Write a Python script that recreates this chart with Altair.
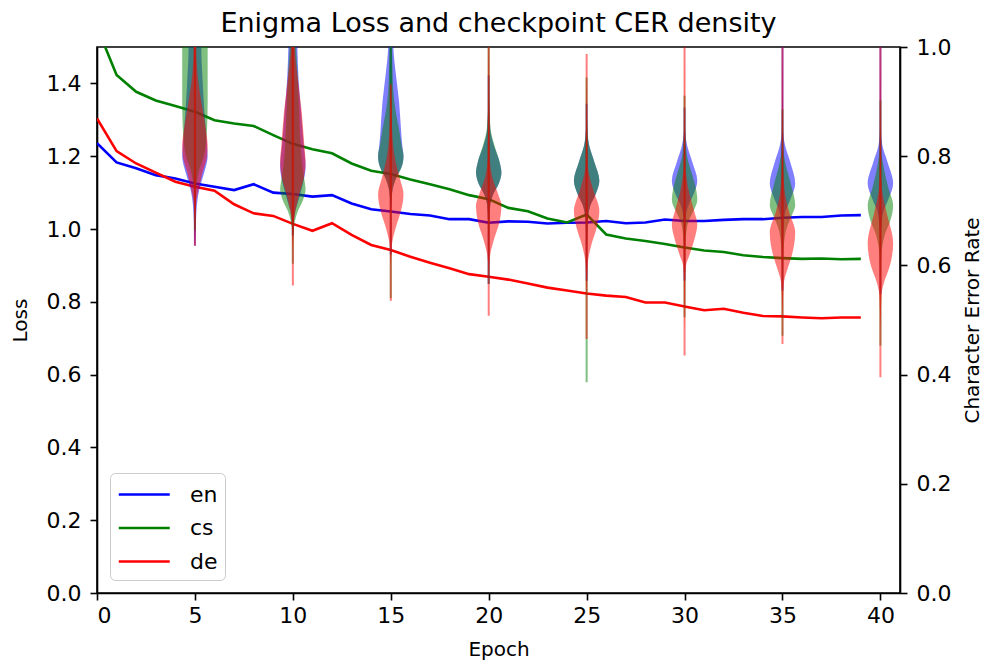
import altair as alt
import pandas as pd

# ---------------- data ----------------
EPOCHS = list(range(40))
LANGS = ["en", "cs", "de"]
LANG_COLORS = ["blue", "green", "red"]

LOSS_EN = [1.236, 1.183, 1.167, 1.148, 1.139, 1.125, 1.116, 1.107, 1.123, 1.100,
           1.096, 1.089, 1.093, 1.070, 1.054, 1.048, 1.041, 1.037, 1.027, 1.027,
           1.017, 1.021, 1.020, 1.015, 1.017, 1.018, 1.022, 1.016, 1.018, 1.026,
           1.022, 1.022, 1.025, 1.027, 1.027, 1.031, 1.033, 1.033, 1.037, 1.038]
LOSS_CS = [1.555, 1.423, 1.377, 1.353, 1.338, 1.322, 1.299, 1.290, 1.283, 1.258,
           1.234, 1.219, 1.208, 1.180, 1.160, 1.151, 1.136, 1.123, 1.109, 1.093,
           1.082, 1.058, 1.049, 1.029, 1.018, 1.040, 0.985, 0.974, 0.967, 0.959,
           0.949, 0.941, 0.937, 0.928, 0.923, 0.920, 0.918, 0.919, 0.917, 0.918]
LOSS_DE = [1.304, 1.214, 1.180, 1.155, 1.130, 1.116, 1.105, 1.068, 1.043, 1.036,
           1.014, 0.995, 1.016, 0.984, 0.956, 0.942, 0.924, 0.907, 0.892, 0.876,
           0.869, 0.861, 0.850, 0.839, 0.831, 0.823, 0.817, 0.813, 0.798, 0.798,
           0.787, 0.777, 0.781, 0.770, 0.761, 0.760, 0.757, 0.755, 0.757, 0.757]

CKPT_EPOCHS = [5, 10, 15, 20, 25, 30, 35, 40]

# extrema of the checkpoint CER samples (min / max), per language
CER_MIN_EN = [0.636, 0.655, 0.620, 0.566, 0.572, 0.572, 0.554, 0.548]
CER_MAX_EN = [1.06, 1.06, 1.06, 0.948, 0.896, 0.889, 1.06, 1.06]
CER_MIN_CS = [0.664, 0.603, 0.540, 0.566, 0.386, 0.505, 0.471, 0.453]
CER_MAX_CS = [1.06, 1.06, 1.06, 1.06, 0.944, 0.911, 0.886, 0.902]
CER_MIN_DE = [0.636, 0.563, 0.535, 0.508, 0.465, 0.435, 0.456, 0.395]
CER_MAX_DE = [1.06, 1.06, 0.932, 1.06, 0.987, 1.06, 1.06, 1.06]

# violin density profiles: (CER, relative half-width)
VIOLIN_EN = {
    5: [(1.06, 0.5), (1.0, 0.5), (0.94, 0.6), (0.88, 0.75), (0.82, 0.95), (0.80, 1.0), (0.78, 0.85),
        (0.76, 0.6), (0.74, 0.35), (0.72, 0.2), (0.70, 0.12), (0.68, 0.08), (0.65, 0.04), (0.636, 0.0)],
    10: [(1.06, 0.3), (1.0, 0.35), (0.94, 0.45), (0.88, 0.65), (0.82, 0.85), (0.78, 1.0), (0.75, 0.8),
         (0.72, 0.45), (0.70, 0.2), (0.68, 0.08), (0.66, 0.03), (0.655, 0.0)],
    15: [(1.06, 0.15), (1.0, 0.2), (0.95, 0.4), (0.90, 0.65), (0.85, 0.8), (0.82, 0.9), (0.80, 1.0),
         (0.78, 0.85), (0.76, 0.4), (0.74, 0.15), (0.72, 0.05), (0.70, 0.0)],
    20: [(0.948, 0.0), (0.90, 0.03), (0.85, 0.12), (0.82, 0.4), (0.79, 0.85), (0.77, 1.0), (0.75, 0.8),
         (0.73, 0.35), (0.71, 0.12), (0.68, 0.05), (0.64, 0.02), (0.60, 0.0)],
    25: [(0.896, 0.0), (0.85, 0.05), (0.82, 0.2), (0.79, 0.6), (0.755, 1.0), (0.73, 0.7), (0.71, 0.3),
         (0.69, 0.12), (0.66, 0.05), (0.62, 0.02), (0.59, 0.0)],
    30: [(0.889, 0.0), (0.85, 0.04), (0.82, 0.2), (0.79, 0.6), (0.755, 1.0), (0.73, 0.7), (0.71, 0.3),
         (0.69, 0.1), (0.66, 0.04), (0.62, 0.02), (0.59, 0.0)],
    35: [(1.06, 0.0), (0.95, 0.02), (0.85, 0.05), (0.82, 0.2), (0.79, 0.6), (0.75, 1.0), (0.72, 0.6),
         (0.70, 0.25), (0.68, 0.1), (0.64, 0.03), (0.60, 0.0)],
    40: [(1.06, 0.0), (0.85, 0.04), (0.82, 0.15), (0.79, 0.55), (0.75, 1.0), (0.72, 0.6), (0.70, 0.25),
         (0.68, 0.1), (0.64, 0.03), (0.60, 0.0)],
}
VIOLIN_CS = {
    5: [(1.06, 1.0), (0.90, 1.0), (0.85, 0.95), (0.82, 0.85), (0.80, 0.7), (0.78, 0.4), (0.76, 0.2),
        (0.74, 0.08), (0.72, 0.03), (0.70, 0.0)],
    10: [(1.06, 0.2), (1.0, 0.25), (0.94, 0.4), (0.88, 0.5), (0.82, 0.6), (0.78, 0.75), (0.75, 0.95),
         (0.74, 1.0), (0.72, 0.8), (0.70, 0.4), (0.68, 0.15), (0.66, 0.05), (0.64, 0.0)],
    15: [(1.06, 0.05), (1.0, 0.1), (0.92, 0.2), (0.88, 0.4), (0.85, 0.65), (0.82, 0.85), (0.80, 1.0),
         (0.78, 0.85), (0.76, 0.45), (0.74, 0.15), (0.72, 0.05), (0.70, 0.0)],
    20: [(1.06, 0.0), (0.95, 0.02), (0.90, 0.04), (0.85, 0.15), (0.82, 0.45), (0.79, 0.85), (0.77, 1.0),
         (0.75, 0.8), (0.73, 0.35), (0.71, 0.12), (0.68, 0.05), (0.64, 0.02), (0.60, 0.0)],
    25: [(0.944, 0.0), (0.85, 0.05), (0.82, 0.2), (0.79, 0.6), (0.755, 1.0), (0.73, 0.7), (0.71, 0.3),
         (0.69, 0.12), (0.66, 0.05), (0.60, 0.02), (0.55, 0.0)],
    30: [(0.911, 0.0), (0.85, 0.03), (0.80, 0.2), (0.77, 0.55), (0.74, 0.9), (0.72, 1.0), (0.70, 0.7),
         (0.68, 0.3), (0.65, 0.1), (0.60, 0.03), (0.55, 0.0)],
    35: [(0.886, 0.0), (0.82, 0.05), (0.78, 0.3), (0.75, 0.65), (0.71, 1.0), (0.69, 0.7), (0.67, 0.35),
         (0.64, 0.12), (0.60, 0.04), (0.55, 0.0)],
    40: [(0.902, 0.0), (0.82, 0.04), (0.78, 0.25), (0.74, 0.65), (0.71, 1.0), (0.68, 0.75), (0.66, 0.4),
         (0.63, 0.12), (0.60, 0.04), (0.55, 0.0)],
}
VIOLIN_DE = {
    5: [(1.06, 0.08), (1.0, 0.1), (0.95, 0.2), (0.90, 0.5), (0.85, 0.85), (0.82, 1.0), (0.80, 0.95),
        (0.77, 0.6), (0.74, 0.3), (0.72, 0.12), (0.70, 0.06), (0.664, 0.0)],
    10: [(1.06, 0.12), (1.0, 0.15), (0.94, 0.4), (0.88, 0.7), (0.82, 0.9), (0.79, 1.0), (0.76, 0.85),
         (0.73, 0.5), (0.70, 0.2), (0.68, 0.08), (0.65, 0.03), (0.62, 0.0)],
    15: [(0.932, 0.0), (0.90, 0.05), (0.85, 0.1), (0.80, 0.3), (0.76, 0.7), (0.73, 1.0), (0.70, 0.8),
         (0.67, 0.4), (0.64, 0.1), (0.615, 0.03), (0.60, 0.0)],
    20: [(1.06, 0.0), (0.90, 0.03), (0.80, 0.08), (0.76, 0.3), (0.73, 0.75), (0.71, 1.0), (0.68, 0.85),
         (0.65, 0.45), (0.62, 0.12), (0.60, 0.04), (0.56, 0.0)],
    25: [(0.987, 0.0), (0.85, 0.03), (0.78, 0.1), (0.74, 0.5), (0.70, 1.0), (0.67, 0.8), (0.64, 0.4),
         (0.61, 0.12), (0.58, 0.04), (0.54, 0.0)],
    30: [(1.06, 0.0), (0.85, 0.02), (0.78, 0.08), (0.74, 0.3), (0.70, 0.75), (0.675, 1.0), (0.65, 0.8),
         (0.62, 0.4), (0.60, 0.12), (0.57, 0.04), (0.52, 0.02), (0.48, 0.0)],
    35: [(1.06, 0.0), (0.80, 0.03), (0.74, 0.15), (0.70, 0.5), (0.66, 1.0), (0.62, 0.75), (0.59, 0.35),
         (0.57, 0.12), (0.54, 0.04), (0.50, 0.0)],
    40: [(1.06, 0.0), (0.80, 0.03), (0.74, 0.12), (0.70, 0.45), (0.64, 1.0), (0.60, 0.75), (0.57, 0.3),
         (0.55, 0.1), (0.52, 0.04), (0.48, 0.0)],
}

X_TICKS = [0, 5, 10, 15, 20, 25, 30, 35, 40]
LOSS_TICKS = [0.0, 0.2, 0.4, 0.6, 0.8, 1.0, 1.2, 1.4]
CER_TICKS = [0.0, 0.2, 0.4, 0.6, 0.8, 1.0]

# ---------------- tables ----------------
loss_rows = []
for lang, series in zip(LANGS, [LOSS_EN, LOSS_CS, LOSS_DE]):
    for e, v in zip(EPOCHS, series):
        loss_rows.append({"epoch": e, "lang": lang, "loss": v})
loss_df = pd.DataFrame(loss_rows)

violin_rows = []
for lang, prof in zip(LANGS, [VIOLIN_EN, VIOLIN_CS, VIOLIN_DE]):
    for e in CKPT_EPOCHS:
        for cer, w in prof[e]:
            violin_rows.append({"epoch": e, "lang": lang, "cer": cer, "rel": w})
violin_df = pd.DataFrame(violin_rows)

ext_rows = []
for lang, mins, maxs in zip(LANGS, [CER_MIN_EN, CER_MIN_CS, CER_MIN_DE],
                            [CER_MAX_EN, CER_MAX_CS, CER_MAX_DE]):
    for e, lo, hi in zip(CKPT_EPOCHS, mins, maxs):
        ext_rows.append({"epoch": e, "lang": lang, "cmin": lo, "cmax": hi})
ext_df = pd.DataFrame(ext_rows)

# ---------------- chart ----------------
FONT = "DejaVu Sans"
HALF_WIDTH = 0.65  # epochs
TICK_FS = 22
TITLE_FS = 20

x_scale = alt.Scale(domain=[0, 41], nice=False, zero=False)
x_axis = alt.Axis(values=X_TICKS, title="Epoch", format="d", labelPadding=5, titlePadding=13)
loss_scale = alt.Scale(domain=[0, 1.5], nice=False)
cer_scale = alt.Scale(domain=[0, 1.0], nice=False)
cer_axis = alt.Axis(values=CER_TICKS, format=".1f", title="Character Error Rate",
                    orient="right", titleAngle=270, titleBaseline="top",
                    labelPadding=9, titlePadding=12)

lines = alt.Chart(loss_df).mark_line(strokeWidth=2.6, clip=True).encode(
    x=alt.X("epoch:Q", scale=x_scale, axis=x_axis),
    y=alt.Y("loss:Q", scale=loss_scale,
            axis=alt.Axis(values=LOSS_TICKS, format=".1f", title="Loss",
                          labelPadding=9, titlePadding=16)),
    color=alt.Color("lang:N", scale=alt.Scale(domain=LANGS, range=LANG_COLORS),
                    legend=alt.Legend(title=None, orient="bottom-left", offset=13,
                                      symbolType="M-1,0H3", symbolSize=650,
                                      symbolStrokeWidth=2.6, labelOffset=44,
                                      padding=7, rowPadding=7.5,
                                      fillColor="rgba(255,255,255,0.8)",
                                      strokeColor="#cccccc", cornerRadius=5)),
)

inner_layers = []
for lang, col in zip(LANGS, LANG_COLORS):
    body = alt.Chart(violin_df).transform_filter(
        alt.datum.lang == lang
    ).transform_calculate(
        lo=f"datum.epoch - datum.rel * {HALF_WIDTH}",
        hi=f"datum.epoch + datum.rel * {HALF_WIDTH}",
    ).mark_area(orient="horizontal", interpolate="monotone", opacity=0.5,
                color=col, clip=True).encode(
        y=alt.Y("cer:Q", scale=cer_scale, axis=cer_axis),
        x=alt.X("lo:Q", scale=x_scale, axis=x_axis, stack=False),
        x2="hi:Q",
        detail="epoch:N",
    )
    bars = alt.Chart(ext_df).transform_filter(
        alt.datum.lang == lang
    ).mark_rule(strokeWidth=2, opacity=0.5, color=col, clip=True).encode(
        x=alt.X("epoch:Q", scale=x_scale, axis=x_axis),
        y=alt.Y("cmin:Q", scale=cer_scale, axis=cer_axis),
        y2="cmax:Q",
    )
    inner_layers += [body, bars]

violins = alt.layer(*inner_layers)

chart = alt.layer(lines, violins).resolve_scale(y="independent").properties(
    width=803,
    height=546,
    autosize=alt.AutoSizeParams(type="none"),
    padding={"left": 89, "top": 39, "right": 83, "bottom": 70},
    title=alt.TitleParams("Enigma Loss and checkpoint CER density", fontSize=27,
                          font=FONT, fontWeight="normal", color="black", offset=-2),
).configure_view(
    stroke="black", strokeWidth=1.6
).configure_axis(
    grid=False, domainColor="black", domainWidth=1.6, tickColor="black",
    tickWidth=1.6, tickSize=7, labelFont=FONT, labelFontSize=TICK_FS,
    labelColor="black", titleFont=FONT, titleFontSize=TITLE_FS, titleFontWeight="normal",
    titleColor="black",
).configure_legend(
    labelFont=FONT, labelFontSize=TICK_FS, labelColor="black",
)

chart.save("out.html", embed_options={"renderer": "svg", "actions": False})
